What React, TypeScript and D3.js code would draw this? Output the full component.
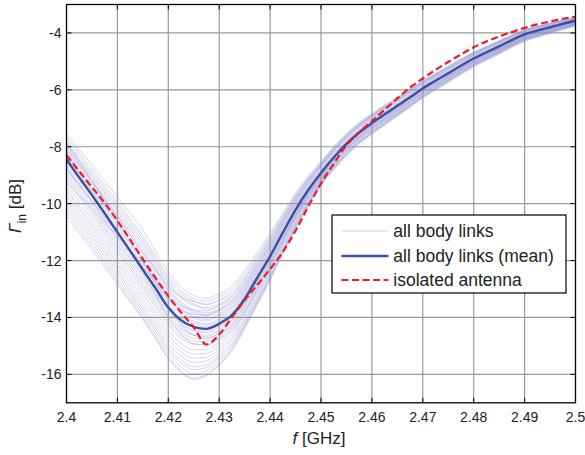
import React from "react";
import * as d3 from "d3";

// Frequency grid (GHz)
const freqs = [
  2.4, 2.4025, 2.405, 2.4075, 2.41, 2.4125, 2.415, 2.4175, 2.42, 2.4225,
  2.425, 2.4275, 2.43, 2.4325, 2.435, 2.4375, 2.44, 2.4425, 2.445, 2.4475,
  2.45, 2.4525, 2.455, 2.4575, 2.46, 2.4625, 2.465, 2.4675, 2.47, 2.4725,
  2.475, 2.4775, 2.48, 2.4825, 2.485, 2.4875, 2.49, 2.4925, 2.495, 2.4975, 2.5,
];

// all body links (mean), dB
const meanValues = [
  -8.45, -9.08, -9.7, -10.34, -11.0, -11.66, -12.32, -12.98, -13.65, -14.1,
  -14.33, -14.4, -14.22, -13.92, -13.35, -12.6, -11.85, -11.02, -10.22, -9.52,
  -8.92, -8.38, -7.9, -7.5, -7.17, -6.86, -6.56, -6.26, -5.95, -5.68,
  -5.42, -5.15, -4.9, -4.68, -4.47, -4.25, -4.05, -3.92, -3.8, -3.68, -3.57,
];

// isolated antenna, dB
const isolatedValues = [
  -8.3, -8.86, -9.42, -9.98, -10.6, -11.27, -11.95, -12.62, -13.25, -13.82,
  -14.35, -14.95, -14.6, -14.0, -13.4, -12.85, -12.3, -11.7, -10.95, -10.1,
  -9.29, -8.6, -7.95, -7.5, -7.1, -6.7, -6.3, -5.92, -5.6, -5.3,
  -5.02, -4.75, -4.5, -4.3, -4.12, -3.97, -3.82, -3.7, -3.6, -3.5, -3.43,
];

// individual body links: deviation from the mean (dB) at these frequencies
const linkKnots = [2.4, 2.415, 2.425, 2.435, 2.45, 2.5];
const linkOffsets = [
  [0.9, 1.4, 1.1, 1.0, 0.4, 0.12],
  [0.8, 1.2, 1.0, 0.9, 0.35, 0.1],
  [0.7, 1.1, 0.9, 0.7, 0.3, 0.1],
  [0.6, 1.0, 0.8, 0.6, 0.3, 0.08],
  [0.55, 0.9, 0.75, 0.5, 0.25, 0.05],
  [0.5, 0.8, 0.6, 0.45, 0.2, 0.05],
  [0.4, 0.7, 0.55, 0.4, 0.2, 0.03],
  [0.35, 0.6, 0.5, 0.35, 0.15, 0.0],
  [0.3, 0.5, 0.4, 0.3, 0.1, 0.02],
  [0.2, 0.4, 0.35, 0.25, 0.1, -0.02],
  [0.15, 0.3, 0.3, 0.2, 0.05, 0.0],
  [0.1, 0.25, 0.2, 0.15, 0.0, -0.03],
  [0.0, 0.15, 0.15, 0.1, 0.0, 0.02],
  [-0.05, 0.05, 0.1, 0.05, -0.05, -0.05],
  [-0.1, 0.0, 0.0, 0.0, -0.05, 0.0],
  [-0.2, -0.1, -0.1, -0.05, -0.1, -0.05],
  [-0.25, -0.2, -0.15, -0.1, -0.1, -0.08],
  [-0.3, -0.3, -0.25, -0.15, -0.15, -0.05],
  [-0.4, -0.4, -0.3, -0.2, -0.15, -0.1],
  [-0.5, -0.5, -0.4, -0.25, -0.2, -0.08],
  [-0.6, -0.6, -0.5, -0.3, -0.2, -0.1],
  [-0.7, -0.7, -0.6, -0.4, -0.25, -0.12],
  [-0.85, -0.85, -0.8, -0.5, -0.25, -0.1],
  [-1.0, -1.0, -0.95, -0.6, -0.3, -0.12],
  [-1.1, -1.15, -1.1, -0.7, -0.3, -0.15],
  [-1.25, -1.3, -1.25, -0.75, -0.35, -0.12],
  [-1.4, -1.4, -1.4, -0.85, -0.35, -0.15],
  [-1.55, -1.5, -1.5, -0.9, -0.4, -0.15],
  [-1.7, -1.6, -1.65, -0.95, -0.4, -0.18],
  [-1.85, -1.7, -1.8, -1.0, -0.4, -0.15],
  [-2.0, -1.75, -1.85, -1.05, -0.45, -0.2],
  [0.6, 0.3, -0.3, -0.4, -0.1, 0.05],
  [-0.8, 0.2, 0.6, 0.7, 0.3, 0.1],
  [0.45, 0.6, 0.9, 0.8, 0.35, 0.1],
  [-0.35, 0.1, 0.45, 0.55, 0.25, 0.06],
  [0.25, -0.1, -0.6, -0.5, -0.2, -0.05],
];

const xTicks = [2.4, 2.41, 2.42, 2.43, 2.44, 2.45, 2.46, 2.47, 2.48, 2.49, 2.5];
const xTickLabels = ["2.4", "2.41", "2.42", "2.43", "2.44", "2.45", "2.46", "2.47", "2.48", "2.49", "2.5"];
const yTicks = [-16, -14, -12, -10, -8, -6, -4];
const legendLabels = ["all body links", "all body links (mean)", "isolated antenna"];

const W = 585;
const H = 455;
const left = 66.5;
const right = 575.5;
const top = 4.5;
const bottom = 402.8;

const FONT = "'Liberation Sans', Arial, Helvetica, sans-serif";

export default function App() {
  const x = d3.scaleLinear().domain([2.4, 2.5]).range([left, right]);
  const y = d3.scaleLinear().domain([-17, -3]).range([bottom, top]);

  const line = d3
    .line<[number, number]>()
    .x((d) => x(d[0]))
    .y((d) => y(d[1]))
    .curve(d3.curveMonotoneX);

  const meanPts: [number, number][] = freqs.map((f, i) => [f, meanValues[i]]);
  const isoPts: [number, number][] = freqs.map((f, i) => [f, isolatedValues[i]]);
  const linkPaths = linkOffsets.map((offs) => {
    const off = d3.scaleLinear().domain(linkKnots).range(offs);
    const pts: [number, number][] = freqs.map((f, i) => [f, meanValues[i] + off(f)]);
    return line(pts) as string;
  });

  const gridColor = "#9a9a9a";
  const linkColor = "#9494d0";
  const meanColor = "#3c4fa3";
  const redColor = "#ee1c24";

  const legX = 332;
  const legY = 215;
  const legW = 234;
  const legH = 78;
  const rowY = [231, 256, 280];

  return (
    <svg
      width={W}
      height={H}
      style={{ position: "absolute", left: 0, top: 0, background: "#fff" }}
      fontFamily={FONT}
    >
      <rect x={0} y={0} width={W} height={H} fill="#fff" />
      {/* grid */}
      <g stroke={gridColor} strokeWidth={1.2}>
        {xTicks.slice(1, -1).map((t) => (
          <line key={"gx" + t} x1={x(t)} x2={x(t)} y1={top} y2={bottom} />
        ))}
        {yTicks.map((t) => (
          <line key={"gy" + t} x1={left} x2={right} y1={y(t)} y2={y(t)} />
        ))}
      </g>
      {/* body links */}
      <g fill="none" stroke={linkColor} strokeWidth={1} strokeOpacity={0.38}>
        {linkPaths.map((p, i) => (
          <path key={i} d={p} />
        ))}
      </g>
      <path d={line(meanPts) as string} fill="none" stroke={meanColor} strokeWidth={2.4} />
      <path
        d={line(isoPts) as string}
        fill="none"
        stroke={redColor}
        strokeWidth={2.2}
        strokeDasharray="7,3.5"
      />
      {/* axes box */}
      <rect x={left} y={top} width={right - left} height={bottom - top} fill="none" stroke="#000" strokeWidth={1.3} />
      {/* ticks */}
      <g stroke="#000" strokeWidth={1}>
        {xTicks.map((t) => (
          <g key={"tx" + t}>
            <line x1={x(t)} x2={x(t)} y1={bottom} y2={bottom - 5} />
            <line x1={x(t)} x2={x(t)} y1={top} y2={top + 5} />
          </g>
        ))}
        {yTicks.map((t) => (
          <g key={"ty" + t}>
            <line x1={left} x2={left + 5} y1={y(t)} y2={y(t)} />
            <line x1={right} x2={right - 5} y1={y(t)} y2={y(t)} />
          </g>
        ))}
      </g>
      {/* tick labels */}
      <g fontSize={14} fill="#222">
        {xTicks.map((t, i) => (
          <text key={"lx" + t} x={x(t)} y={422.3} textAnchor="middle">
            {xTickLabels[i]}
          </text>
        ))}
        {yTicks.map((t) => (
          <text key={"ly" + t} x={61.5} y={y(t)} textAnchor="end" dominantBaseline="central">
            {String(t)}
          </text>
        ))}
      </g>
      {/* axis labels */}
      <text x={319} y={444} textAnchor="middle" fontSize={17} fill="#222">
        <tspan fontStyle="italic">f</tspan>
        <tspan> [GHz]</tspan>
      </text>
      <text transform="translate(21,206) rotate(-90)" textAnchor="middle" fontSize={17} fill="#222">
        <tspan fontStyle="italic">Γ</tspan>
        <tspan fontSize={12} dy={5}>in</tspan>
        <tspan dy={-5}> [dB]</tspan>
      </text>
      {/* legend */}
      <rect x={legX} y={legY} width={legW} height={legH} fill="#fff" stroke="#000" strokeWidth={1.2} />
      <line x1={341.5} x2={388.5} y1={rowY[0]} y2={rowY[0]} stroke="#c9c9ea" strokeWidth={1.2} />
      <line x1={341.5} x2={388.5} y1={rowY[1]} y2={rowY[1]} stroke={meanColor} strokeWidth={2.4} />
      <line x1={341.5} x2={388.5} y1={rowY[2]} y2={rowY[2]} stroke={redColor} strokeWidth={2.2} strokeDasharray="7,3.5" />
      <g fontSize={17.5} fill="#222">
        {legendLabels.map((s, i) => (
          <text key={s} x={393.3} y={rowY[i]} dominantBaseline="central">
            {s}
          </text>
        ))}
      </g>
    </svg>
  );
}
